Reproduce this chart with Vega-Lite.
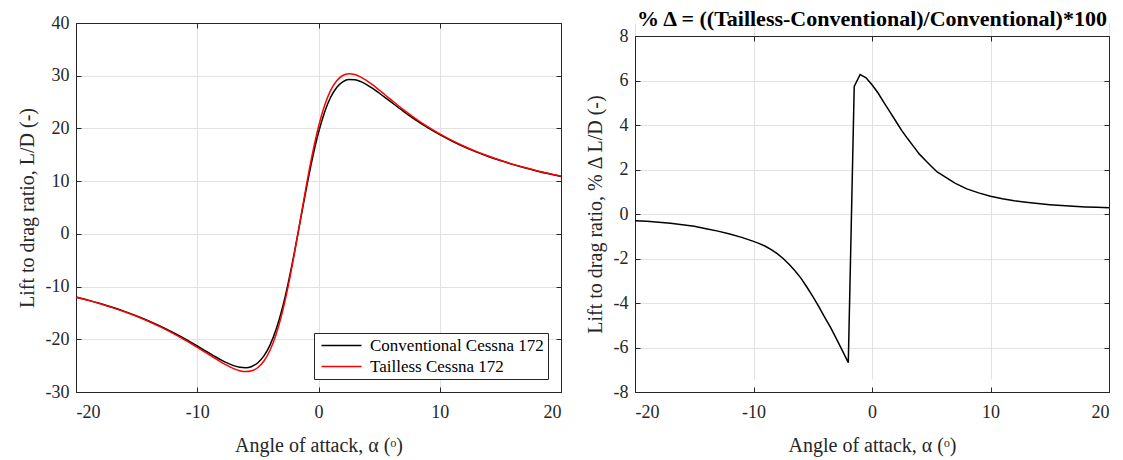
{
  "$schema": "https://vega.github.io/schema/vega-lite/v6.json",
  "padding": {"left": 17, "top": 8, "right": 5, "bottom": 5},
  "background": "white",
  "spacing": 21,
  "resolve": {"legend": {"color": "independent"}},
  "config": {
    "font": "Liberation Serif",
    "view": {"stroke": null},
    "axis": {
      "labelFont": "Liberation Serif",
      "titleFont": "Liberation Serif",
      "labelFontSize": 18,
      "titleFontSize": 20,
      "titleFontWeight": "normal",
      "labelColor": "#262626",
      "titleColor": "#262626",
      "gridColor": "#e2e2e2",
      "gridWidth": 1,
      "domainColor": "#262626",
      "domainWidth": 1,
      "tickColor": "#262626",
      "tickSize": -5,
      "labelExpr": "'' + datum.value"
    },
    "axisX": {"labelPadding": 16, "titlePadding": 14},
    "axisY": {"labelPadding": 12, "titlePadding": 8},
    "title": {"font": "Liberation Serif", "fontSize": 22, "fontWeight": "bold", "color": "black", "offset": -8},
    "legend": {
      "labelFont": "Liberation Serif",
      "labelFontSize": 17,
      "labelColor": "black",
      "labelLimit": 400
    }
  },
  "datasets": {
    "ld": [
      {"alpha": -20, "LD": -11.98, "config": "Conventional Cessna 172"},
      {"alpha": -19, "LD": -12.57, "config": "Conventional Cessna 172"},
      {"alpha": -18, "LD": -13.22, "config": "Conventional Cessna 172"},
      {"alpha": -17, "LD": -13.93, "config": "Conventional Cessna 172"},
      {"alpha": -16, "LD": -14.71, "config": "Conventional Cessna 172"},
      {"alpha": -15, "LD": -15.57, "config": "Conventional Cessna 172"},
      {"alpha": -14, "LD": -16.51, "config": "Conventional Cessna 172"},
      {"alpha": -13, "LD": -17.56, "config": "Conventional Cessna 172"},
      {"alpha": -12, "LD": -18.70, "config": "Conventional Cessna 172"},
      {"alpha": -11, "LD": -19.94, "config": "Conventional Cessna 172"},
      {"alpha": -10, "LD": -21.27, "config": "Conventional Cessna 172"},
      {"alpha": -9.5, "LD": -21.95, "config": "Conventional Cessna 172"},
      {"alpha": -9, "LD": -22.63, "config": "Conventional Cessna 172"},
      {"alpha": -8.5, "LD": -23.31, "config": "Conventional Cessna 172"},
      {"alpha": -8, "LD": -23.95, "config": "Conventional Cessna 172"},
      {"alpha": -7.5, "LD": -24.52, "config": "Conventional Cessna 172"},
      {"alpha": -7, "LD": -25.00, "config": "Conventional Cessna 172"},
      {"alpha": -6.5, "LD": -25.31, "config": "Conventional Cessna 172"},
      {"alpha": -6, "LD": -25.39, "config": "Conventional Cessna 172"},
      {"alpha": -5.5, "LD": -25.15, "config": "Conventional Cessna 172"},
      {"alpha": -5, "LD": -24.45, "config": "Conventional Cessna 172"},
      {"alpha": -4.5, "LD": -23.15, "config": "Conventional Cessna 172"},
      {"alpha": -4, "LD": -21.11, "config": "Conventional Cessna 172"},
      {"alpha": -3.5, "LD": -18.16, "config": "Conventional Cessna 172"},
      {"alpha": -3, "LD": -14.24, "config": "Conventional Cessna 172"},
      {"alpha": -2.5, "LD": -9.34, "config": "Conventional Cessna 172"},
      {"alpha": -2, "LD": -3.66, "config": "Conventional Cessna 172"},
      {"alpha": -1.5, "LD": 2.49, "config": "Conventional Cessna 172"},
      {"alpha": -1, "LD": 8.64, "config": "Conventional Cessna 172"},
      {"alpha": -0.5, "LD": 14.33, "config": "Conventional Cessna 172"},
      {"alpha": 0, "LD": 19.22, "config": "Conventional Cessna 172"},
      {"alpha": 0.5, "LD": 23.09, "config": "Conventional Cessna 172"},
      {"alpha": 1, "LD": 25.91, "config": "Conventional Cessna 172"},
      {"alpha": 1.5, "LD": 27.77, "config": "Conventional Cessna 172"},
      {"alpha": 2, "LD": 28.83, "config": "Conventional Cessna 172"},
      {"alpha": 2.5, "LD": 29.27, "config": "Conventional Cessna 172"},
      {"alpha": 3, "LD": 29.23, "config": "Conventional Cessna 172"},
      {"alpha": 3.5, "LD": 28.87, "config": "Conventional Cessna 172"},
      {"alpha": 4, "LD": 28.27, "config": "Conventional Cessna 172"},
      {"alpha": 4.5, "LD": 27.54, "config": "Conventional Cessna 172"},
      {"alpha": 5, "LD": 26.72, "config": "Conventional Cessna 172"},
      {"alpha": 5.5, "LD": 25.86, "config": "Conventional Cessna 172"},
      {"alpha": 6, "LD": 24.98, "config": "Conventional Cessna 172"},
      {"alpha": 7, "LD": 23.25, "config": "Conventional Cessna 172"},
      {"alpha": 8, "LD": 21.63, "config": "Conventional Cessna 172"},
      {"alpha": 9, "LD": 20.15, "config": "Conventional Cessna 172"},
      {"alpha": 10, "LD": 18.82, "config": "Conventional Cessna 172"},
      {"alpha": 11, "LD": 17.61, "config": "Conventional Cessna 172"},
      {"alpha": 12, "LD": 16.53, "config": "Conventional Cessna 172"},
      {"alpha": 13, "LD": 15.56, "config": "Conventional Cessna 172"},
      {"alpha": 14, "LD": 14.69, "config": "Conventional Cessna 172"},
      {"alpha": 15, "LD": 13.90, "config": "Conventional Cessna 172"},
      {"alpha": 16, "LD": 13.18, "config": "Conventional Cessna 172"},
      {"alpha": 17, "LD": 12.53, "config": "Conventional Cessna 172"},
      {"alpha": 18, "LD": 11.94, "config": "Conventional Cessna 172"},
      {"alpha": 19, "LD": 11.40, "config": "Conventional Cessna 172"},
      {"alpha": 20, "LD": 10.90, "config": "Conventional Cessna 172"},
      {"alpha": -20, "LD": -12.02, "config": "Tailless Cessna 172"},
      {"alpha": -19, "LD": -12.61, "config": "Tailless Cessna 172"},
      {"alpha": -18, "LD": -13.27, "config": "Tailless Cessna 172"},
      {"alpha": -17, "LD": -13.99, "config": "Tailless Cessna 172"},
      {"alpha": -16, "LD": -14.78, "config": "Tailless Cessna 172"},
      {"alpha": -15, "LD": -15.65, "config": "Tailless Cessna 172"},
      {"alpha": -14, "LD": -16.62, "config": "Tailless Cessna 172"},
      {"alpha": -13, "LD": -17.69, "config": "Tailless Cessna 172"},
      {"alpha": -12, "LD": -18.87, "config": "Tailless Cessna 172"},
      {"alpha": -11, "LD": -20.15, "config": "Tailless Cessna 172"},
      {"alpha": -10, "LD": -21.53, "config": "Tailless Cessna 172"},
      {"alpha": -9.5, "LD": -22.24, "config": "Tailless Cessna 172"},
      {"alpha": -9, "LD": -22.96, "config": "Tailless Cessna 172"},
      {"alpha": -8.5, "LD": -23.68, "config": "Tailless Cessna 172"},
      {"alpha": -8, "LD": -24.37, "config": "Tailless Cessna 172"},
      {"alpha": -7.5, "LD": -25.01, "config": "Tailless Cessna 172"},
      {"alpha": -7, "LD": -25.56, "config": "Tailless Cessna 172"},
      {"alpha": -6.5, "LD": -25.96, "config": "Tailless Cessna 172"},
      {"alpha": -6, "LD": -26.13, "config": "Tailless Cessna 172"},
      {"alpha": -5.5, "LD": -25.97, "config": "Tailless Cessna 172"},
      {"alpha": -5, "LD": -25.35, "config": "Tailless Cessna 172"},
      {"alpha": -4.5, "LD": -24.11, "config": "Tailless Cessna 172"},
      {"alpha": -4, "LD": -22.08, "config": "Tailless Cessna 172"},
      {"alpha": -3.5, "LD": -19.09, "config": "Tailless Cessna 172"},
      {"alpha": -3, "LD": -15.03, "config": "Tailless Cessna 172"},
      {"alpha": -2.5, "LD": -9.92, "config": "Tailless Cessna 172"},
      {"alpha": -2, "LD": -3.90, "config": "Tailless Cessna 172"},
      {"alpha": -1.5, "LD": 2.63, "config": "Tailless Cessna 172"},
      {"alpha": -1, "LD": 9.18, "config": "Tailless Cessna 172"},
      {"alpha": -0.5, "LD": 15.21, "config": "Tailless Cessna 172"},
      {"alpha": 0, "LD": 20.33, "config": "Tailless Cessna 172"},
      {"alpha": 0.5, "LD": 24.34, "config": "Tailless Cessna 172"},
      {"alpha": 1, "LD": 27.21, "config": "Tailless Cessna 172"},
      {"alpha": 1.5, "LD": 29.05, "config": "Tailless Cessna 172"},
      {"alpha": 2, "LD": 30.04, "config": "Tailless Cessna 172"},
      {"alpha": 2.5, "LD": 30.37, "config": "Tailless Cessna 172"},
      {"alpha": 3, "LD": 30.22, "config": "Tailless Cessna 172"},
      {"alpha": 3.5, "LD": 29.74, "config": "Tailless Cessna 172"},
      {"alpha": 4, "LD": 29.03, "config": "Tailless Cessna 172"},
      {"alpha": 4.5, "LD": 28.21, "config": "Tailless Cessna 172"},
      {"alpha": 5, "LD": 27.29, "config": "Tailless Cessna 172"},
      {"alpha": 5.5, "LD": 26.34, "config": "Tailless Cessna 172"},
      {"alpha": 6, "LD": 25.41, "config": "Tailless Cessna 172"},
      {"alpha": 7, "LD": 23.58, "config": "Tailless Cessna 172"},
      {"alpha": 8, "LD": 21.88, "config": "Tailless Cessna 172"},
      {"alpha": 9, "LD": 20.34, "config": "Tailless Cessna 172"},
      {"alpha": 10, "LD": 18.97, "config": "Tailless Cessna 172"},
      {"alpha": 11, "LD": 17.73, "config": "Tailless Cessna 172"},
      {"alpha": 12, "LD": 16.63, "config": "Tailless Cessna 172"},
      {"alpha": 13, "LD": 15.64, "config": "Tailless Cessna 172"},
      {"alpha": 14, "LD": 14.76, "config": "Tailless Cessna 172"},
      {"alpha": 15, "LD": 13.95, "config": "Tailless Cessna 172"},
      {"alpha": 16, "LD": 13.23, "config": "Tailless Cessna 172"},
      {"alpha": 17, "LD": 12.58, "config": "Tailless Cessna 172"},
      {"alpha": 18, "LD": 11.98, "config": "Tailless Cessna 172"},
      {"alpha": 19, "LD": 11.43, "config": "Tailless Cessna 172"},
      {"alpha": 20, "LD": 10.93, "config": "Tailless Cessna 172"}
    ],
    "delta": [
      {"alpha": -20, "delta": -0.30},
      {"alpha": -19, "delta": -0.33},
      {"alpha": -18, "delta": -0.37},
      {"alpha": -17, "delta": -0.42},
      {"alpha": -16, "delta": -0.48},
      {"alpha": -15, "delta": -0.55},
      {"alpha": -14, "delta": -0.66},
      {"alpha": -13, "delta": -0.77},
      {"alpha": -12, "delta": -0.90},
      {"alpha": -11, "delta": -1.05},
      {"alpha": -10, "delta": -1.23},
      {"alpha": -9.5, "delta": -1.33},
      {"alpha": -9, "delta": -1.45},
      {"alpha": -8.5, "delta": -1.60},
      {"alpha": -8, "delta": -1.78},
      {"alpha": -7.5, "delta": -2.00},
      {"alpha": -7, "delta": -2.26},
      {"alpha": -6.5, "delta": -2.55},
      {"alpha": -6, "delta": -2.88},
      {"alpha": -5.5, "delta": -3.28},
      {"alpha": -5, "delta": -3.70},
      {"alpha": -4.5, "delta": -4.15},
      {"alpha": -4, "delta": -4.63},
      {"alpha": -3.5, "delta": -5.10},
      {"alpha": -3, "delta": -5.61},
      {"alpha": -2.5, "delta": -6.14},
      {"alpha": -2, "delta": -6.68},
      {"alpha": -1.5, "delta": 5.73},
      {"alpha": -1, "delta": 6.27},
      {"alpha": -0.5, "delta": 6.12},
      {"alpha": 0, "delta": 5.81},
      {"alpha": 0.5, "delta": 5.45},
      {"alpha": 1, "delta": 5.02},
      {"alpha": 1.5, "delta": 4.60},
      {"alpha": 2, "delta": 4.18},
      {"alpha": 2.5, "delta": 3.76},
      {"alpha": 3, "delta": 3.39},
      {"alpha": 3.5, "delta": 3.04},
      {"alpha": 4, "delta": 2.69},
      {"alpha": 4.5, "delta": 2.42},
      {"alpha": 5, "delta": 2.15},
      {"alpha": 5.5, "delta": 1.89},
      {"alpha": 6, "delta": 1.72},
      {"alpha": 7, "delta": 1.39},
      {"alpha": 8, "delta": 1.13},
      {"alpha": 9, "delta": 0.95},
      {"alpha": 10, "delta": 0.80},
      {"alpha": 11, "delta": 0.69},
      {"alpha": 12, "delta": 0.60},
      {"alpha": 13, "delta": 0.53},
      {"alpha": 14, "delta": 0.47},
      {"alpha": 15, "delta": 0.42},
      {"alpha": 16, "delta": 0.38},
      {"alpha": 17, "delta": 0.35},
      {"alpha": 18, "delta": 0.32},
      {"alpha": 19, "delta": 0.30},
      {"alpha": 20, "delta": 0.28}
    ]
  },
  "hconcat": [
    {
      "width": 485,
      "height": 369,
      "data": {"name": "ld"},
      "layer": [
        {
          "mark": {"type": "line", "strokeWidth": 1.5, "interpolate": "monotone"},
          "encoding": {
            "x": {
              "field": "alpha", "type": "quantitative",
              "scale": {"domain": [-20, 20], "nice": false, "zero": false},
              "axis": {"orient": "bottom", "values": [-20, -10, 0, 10, 20], "title": "Angle of attack, α (ᵒ)"}
            },
            "y": {
              "field": "LD", "type": "quantitative",
              "scale": {"domain": [-30, 40], "nice": false, "zero": false},
              "axis": {"orient": "left", "values": [-30, -20, -10, 0, 10, 20, 30, 40], "title": "Lift to drag ratio, L/D (-)"}
            },
            "color": {
              "field": "config", "type": "nominal",
              "scale": {"domain": ["Conventional Cessna 172", "Tailless Cessna 172"], "range": ["black", "red"]},
              "legend": {
                "title": null,
                "orient": "bottom-right",
                "offset": 13,
                "strokeColor": "#262626",
                "fillColor": "white",
                "padding": 4,
                "symbolType": "M-1,0H7",
                "symbolSize": 100,
                "symbolStrokeWidth": 1.5,
                "labelOffset": 35,
                "rowPadding": 3
              }
            }
          }
        },
        {
          "mark": {"type": "line", "strokeOpacity": 0},
          "encoding": {
            "x": {
              "field": "alpha", "type": "quantitative",
              "axis": {"orient": "top", "values": [-20, -10, 0, 10, 20], "labels": false, "title": null, "grid": false}
            },
            "y": {
              "field": "LD", "type": "quantitative",
              "axis": {"orient": "right", "values": [-30, -20, -10, 0, 10, 20, 30, 40], "labels": false, "title": null, "grid": false}
            }
          }
        }
      ]
    },
    {
      "width": 474,
      "height": 369,
      "title": {"text": "% Δ = ((Tailless-Conventional)/Conventional)*100"},
      "data": {"name": "delta"},
      "layer": [
        {
          "mark": {"type": "line", "strokeWidth": 1.5, "color": "black"},
          "encoding": {
            "x": {
              "field": "alpha", "type": "quantitative",
              "scale": {"domain": [-20, 20], "nice": false, "zero": false},
              "axis": {"orient": "bottom", "values": [-20, -10, 0, 10, 20], "title": "Angle of attack, α (ᵒ)"}
            },
            "y": {
              "field": "delta", "type": "quantitative",
              "scale": {"domain": [-8, 8], "nice": false, "zero": false, "range": [369, 13]},
              "axis": {"orient": "left", "values": [-8, -6, -4, -2, 0, 2, 4, 6, 8], "title": "Lift to drag ratio, % Δ L/D (-)"}
            }
          }
        },
        {
          "mark": {"type": "line", "strokeOpacity": 0},
          "encoding": {
            "x": {
              "field": "alpha", "type": "quantitative",
              "axis": {"orient": "top", "offset": -13, "values": [-20, -10, 0, 10, 20], "labels": false, "title": null, "grid": false}
            },
            "y": {
              "field": "delta", "type": "quantitative",
              "axis": {"orient": "right", "values": [-8, -6, -4, -2, 0, 2, 4, 6, 8], "labels": false, "title": null, "grid": false}
            }
          }
        }
      ]
    }
  ]
}
